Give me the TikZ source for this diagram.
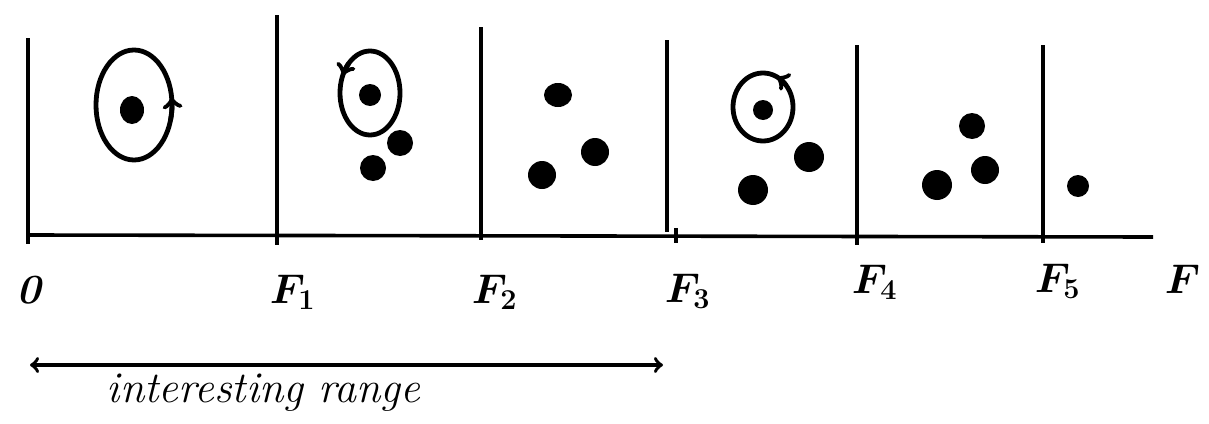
\documentclass[tikz,border=0pt]{standalone}
\begin{document}
\begin{tikzpicture}[x=0.5pt,y=-0.5pt,line width=1.8pt,
    orbit/.style={line width=2.4pt},
    flabel/.style={font=\huge\boldmath,inner sep=0pt,anchor=base west}]
    \useasboundingbox (0,0) rectangle (1209,423);
    \coordinate (Ostart) at (28,235);
    \coordinate (Fend) at (1153,237);
    \coordinate (Rleft) at (30,365);
    \coordinate (Rright) at (663,365);
    \draw (Ostart)--(Fend);
    \draw (28,38)--(28,244) (277,15)--(277,245) (481,27)--(481,240);
    \draw (667,40)--(667,232) (676,228)--(676,243);
    \draw (857,45)--(857,245) (1043,45)--(1043,243);
    \draw[orbit] (134,105) ellipse[x radius=38,y radius=55];
    \draw[orbit,->] (134,105) ++(15:38 and 55) arc[start angle=15,end angle=-8,x radius=38,y radius=55];
    \fill (132,110) ellipse[x radius=12,y radius=14];
    \draw[orbit] (370,93) ellipse[x radius=30,y radius=42];
    \draw[orbit,->] (370,93) ++(225:30 and 42) arc[start angle=225,end angle=205,x radius=30,y radius=42];
    \fill (370,95) circle[radius=11];
    \fill (400,143) circle[radius=13];
    \fill (373,168) circle[radius=13];
    \fill (558,95) ellipse[x radius=14,y radius=12];
    \fill (595,152) circle[radius=14];
    \fill (542,175) circle[radius=14];
    \draw[orbit] (763,107) ellipse[x radius=30,y radius=34];
    \draw[orbit,->] (763,107) ++(-40:30 and 34) arc[start angle=-40,end angle=-62,x radius=30,y radius=34];
    \fill (763,110) circle[radius=10];
    \fill (809,157) circle[radius=15];
    \fill (753,190) circle[radius=15];
    \fill (972,126) circle[radius=13];
    \fill (985,170) circle[radius=14];
    \fill (937,185) circle[radius=15];
    \fill (1078,186) circle[radius=11];
    \node[flabel] (zero) at (15,303) {\bfseries\itshape 0};
    \node[flabel] (f1) at (268,303) {$F_1$};
    \node[flabel] (f2) at (470,303) {$F_2$};
    \node[flabel] (f3) at (663,302) {$F_3$};
    \node[flabel] (f4) at (850,293) {$F_4$};
    \node[flabel] (f5) at (1033,292) {$F_5$};
    \node[flabel] (f) at (1163,293) {$F$};
    \draw[<->] (Rleft)--(Rright);
    \node[flabel,font=\fontsize{22}{26}\selectfont\itshape] (range) at (105,402) {interesting range};
\end{tikzpicture}
\end{document}
